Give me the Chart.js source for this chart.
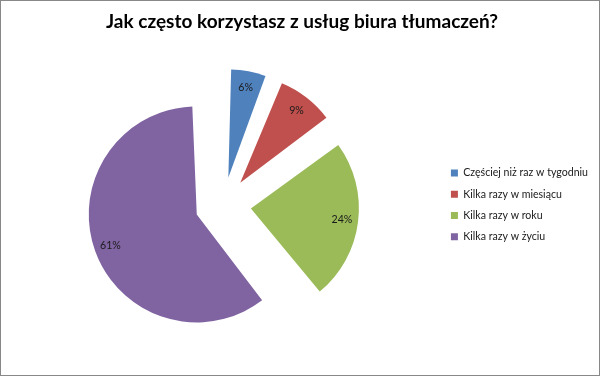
<!DOCTYPE html>
<html lang="pl">
<head>
<meta charset="utf-8">
<title>Jak często korzystasz z usług biura tłumaczeń?</title>
<script src="https://cdn.jsdelivr.net/npm/chart.js@4"></script>
<style>
  body { margin: 0; background: #fff; }
  #wrap { width: 600px; height: 376px; }
</style>
</head>
<body>
<div id="wrap"><canvas id="diagram"></canvas></div>
<script>
// data
const titleText = "Jak często korzystasz z usług biura tłumaczeń?";
const labels = [
  "Częściej niż raz w tygodniu",
  "Kilka razy w miesiącu",
  "Kilka razy w roku",
  "Kilka razy w życiu"
];
const values = [6, 9, 24, 61];
const colors = ["#4F81BD", "#C0504D", "#9BBB59", "#8064A2"];

const fontFamily = "Lato, 'Open Sans', sans-serif";
const pieRadius = 108;
const sliceOffset = 28; // px each slice is pulled out

// grey frame round the picture
const frame = {
  id: "frame",
  beforeDraw(chart) {
    const ctx = chart.ctx;
    ctx.save();
    ctx.fillStyle = "#fff";
    ctx.fillRect(0, 0, chart.width, chart.height);
    ctx.restore();
  },
  afterDraw(chart) {
    const ctx = chart.ctx;
    ctx.save();
    ctx.strokeStyle = "#888888";
    ctx.lineWidth = 1;
    ctx.strokeRect(0.5, 0.5, chart.width - 1, chart.height - 1);
    ctx.restore();
  }
};

// chart.js grows the radius of offset arcs, undo that so all slices keep one radius
const sameRadius = {
  id: "sameRadius",
  afterUpdate(chart) {
    chart.getDatasetMeta(0).data.forEach((arc) => {
      const circ = arc.endAngle - arc.startAngle;
      const fix = 1 - Math.sin(Math.min(Math.PI, circ));
      arc.outerRadius = pieRadius - sliceOffset * fix;
    });
  }
};

// percent labels inside the slices
const percentLabels = {
  id: "percentLabels",
  afterDatasetsDraw(chart) {
    const ctx = chart.ctx;
    const meta = chart.getDatasetMeta(0);
    ctx.save();
    ctx.font = "10.6px " + fontFamily;
    ctx.fillStyle = "#1a1a1a";
    ctx.textAlign = "center";
    ctx.textBaseline = "middle";
    meta.data.forEach((arc, i) => {
      const mid = (arc.startAngle + arc.endAngle) / 2;
      const dist = sliceOffset + pieRadius * 0.85;
      const x = arc.x + Math.cos(mid) * dist;
      const y = arc.y + Math.sin(mid) * dist;
      ctx.fillText(values[i] + "%", x, y);
    });
    ctx.restore();
  }
};

const data = {
  labels,
  datasets: [
    {
      data: values,
      backgroundColor: colors,
      borderWidth: 0,
      offset: sliceOffset * 4, // arc moves by offset / 4
      hoverOffset: 0
    }
  ]
};

const config = {
  type: "pie",
  data,
  options: {
    responsive: true,
    maintainAspectRatio: false,
    animation: false,
    radius: pieRadius,
    layout: {
      padding: { left: 6, right: 2, top: 0, bottom: 0 }
    },
    plugins: {
      title: {
        display: true,
        text: titleText,
        color: "#000",
        font: { family: fontFamily, size: 19, weight: "bold" },
        padding: { top: 10, bottom: 1 }
      },
      legend: {
        position: "right",
        fullSize: false,
        labels: {
          boxWidth: 7,
          boxHeight: 7,
          padding: 10.7,
          color: "#1a1a1a",
          font: { family: fontFamily, size: 10.6 }
        }
      },
      tooltip: { enabled: false }
    }
  },
  plugins: [frame, sameRadius, percentLabels]
};

const canvas = document.getElementById("diagram");
const chart = new Chart(canvas, config);
</script>
</body>
</html>
